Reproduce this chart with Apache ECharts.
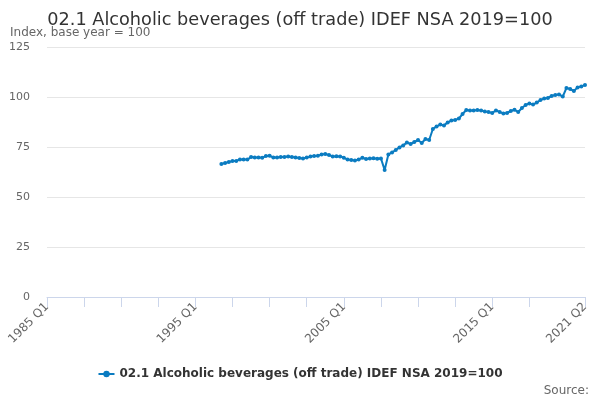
<!DOCTYPE html>
<html>
<head>
<meta charset="utf-8">
<script src="https://cdn.jsdelivr.net/npm/echarts@6/dist/echarts.min.js"></script>
<style>
html,body{margin:0;padding:0;background:#fff;}
#chart{width:600px;height:400px;}
</style>
</head>
<body>
<div id="chart"></div>
<script>
// Quarter axis: 1985 Q1 .. 2021 Q2
var firstYear = 1985;
var lastYear = 2021, lastQuarter = 2;
var categories = [];
for (var y = firstYear; y <= lastYear; y++) {
  for (var q = 1; q <= 4; q++) {
    if (y === lastYear && q > lastQuarter) break;
    categories.push(y + ' Q' + q);
  }
}
// Series starts at 1996 Q4
var seriesStart = '1996 Q4';
var seriesName = '02.1 Alcoholic beverages (off trade) IDEF NSA 2019=100';
var values = [
  66.5, 67, 67.5, 68, 68, 68.8, 68.8, 68.7, 70, 69.7,
  69.8, 69.6, 70.5, 70.6, 69.8, 69.7, 70, 70, 70.2, 70,
  69.8, 69.5, 69.3, 69.7, 70.2, 70.5, 70.6, 71.2, 71.5, 71,
  70.3, 70.4, 70.3, 69.6, 68.8, 68.5, 68.3, 68.8, 69.6, 69,
  69.2, 69.4, 69.1, 69.3, 63.5, 71.3, 72.3, 73.5, 74.8, 75.8,
  77.2, 76.5, 77.5, 78.5, 77, 79, 78.5, 84, 85.3, 86.2,
  85.8, 87.3, 88.2, 88.5, 89.2, 91.5, 93.5, 93.2, 93.2, 93.5,
  93.2, 92.8, 92.5, 92, 93.3, 92.5, 91.8, 92, 93, 93.6,
  92.5, 94.5, 96, 96.8, 96.2, 97.2, 98.5, 99.2, 99.5, 100.5,
  101, 101.3, 100.2, 104.5, 104, 103, 104.8, 105.3, 106
];
var yTicks = [0, 25, 50, 75, 100, 125];

var startIdx = categories.indexOf(seriesStart);
var seriesData = categories.map(function (c, i) {
  var k = i - startIdx;
  return (k >= 0 && k < values.length) ? values[k] : null;
});
var lastIdx = categories.length - 1;

var chart = echarts.init(document.getElementById('chart'));
chart.setOption({
  animation: false,
  textStyle: { fontFamily: 'DejaVu Sans' },
  title: [{
    text: '02.1 Alcoholic beverages (off trade) IDEF NSA 2019=100',
    left: 'center', top: 11, padding: 0,
    textStyle: { fontSize: 17.7, fontWeight: 'normal', color: '#333333', fontFamily: 'DejaVu Sans' }
  }, {
    text: 'Index, base year = 100',
    left: 10, top: 27, padding: 0,
    textStyle: { fontSize: 12, fontWeight: 'normal', color: '#666666', fontFamily: 'DejaVu Sans' }
  }, {
    text: 'Source:',
    right: 11, bottom: 3, padding: 0,
    textStyle: { fontSize: 12, fontWeight: 'normal', color: '#666666', fontFamily: 'DejaVu Sans' }
  }],
  legend: {
    bottom: 15, left: 'center',
    itemWidth: 16, itemHeight: 8,
    itemGap: 5,
    textStyle: { fontSize: 12, fontWeight: 'bold', color: '#333333', fontFamily: 'DejaVu Sans' },
    data: [seriesName]
  },
  grid: { left: 47, right: 15, top: 47, bottom: 103, containLabel: false },
  xAxis: {
    type: 'category',
    data: categories,
    boundaryGap: false,
    axisLine: { lineStyle: { color: '#ccd6eb', width: 1 } },
    axisTick: {
      length: 10,
      lineStyle: { color: '#ccd6eb' },
      interval: function (i) { return (i % 10 === 0 && i <= 130) || i === lastIdx; }
    },
    axisLabel: {
      rotate: 45,
      color: '#666666',
      fontSize: 12,
      margin: 8,
      interval: function (i) { return i % 40 === 0 || i === lastIdx; }
    },
    splitLine: { show: false }
  },
  yAxis: {
    type: 'value',
    min: yTicks[0], max: yTicks[yTicks.length - 1], interval: 25,
    axisLine: { show: false },
    axisTick: { show: false },
    axisLabel: { color: '#666666', fontSize: 11, margin: 17 },
    splitLine: { lineStyle: { color: '#e6e6e6' } }
  },
  series: [{
    name: seriesName,
    type: 'line',
    data: seriesData,
    connectNulls: false,
    symbol: 'circle',
    symbolSize: 4,
    showSymbol: true,
    showAllSymbol: true,
    itemStyle: { color: '#0b7cc1' },
    lineStyle: { color: '#0b7cc1', width: 2 }
  }]
});
</script>
</body>
</html>
